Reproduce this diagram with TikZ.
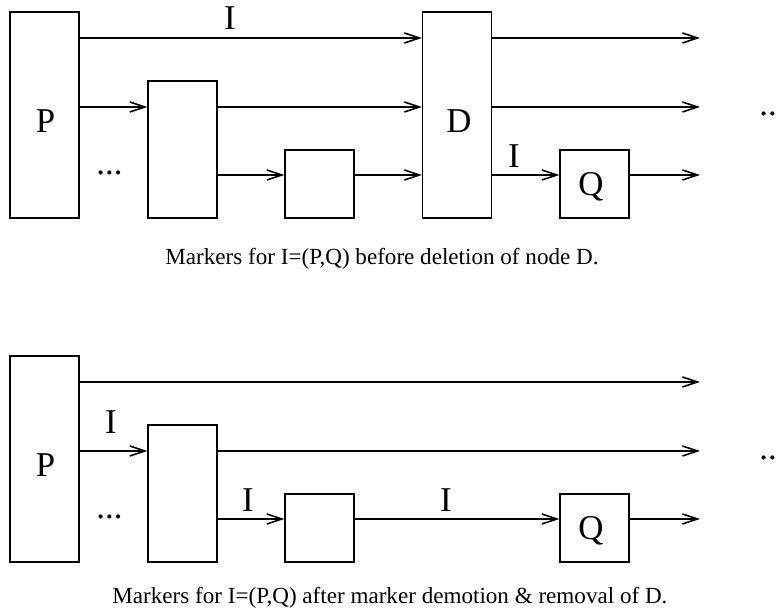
\documentclass[tikz,border=0pt]{standalone}
\usepackage{fontspec}
\setmainfont{Liberation Serif}
\usepackage{tikz}
\usetikzlibrary{positioning}
\usetikzlibrary{arrows.meta}

\tikzset{
  box/.style={draw, line width=0.65pt, inner sep=0pt, minimum width=34.5pt},
  tall/.style={box, minimum height=103pt},
  mid/.style={box, minimum height=68.5pt},
  low/.style={box, minimum height=34pt},
  conn/.style={line width=0.65pt, -{Straight Barb[length=7.5pt, width=5pt, line width=0.8pt]}},
  lbl/.style={inner sep=0pt, anchor=base, font=\fontsize{17.4}{20}\selectfont},
  capt/.style={inner sep=0pt, anchor=base west, font=\fontsize{11.55}{13}\selectfont}
}

\begin{document}
\begin{tikzpicture}[x=0.5pt, y=-0.5pt]
\useasboundingbox (0,0) rectangle (778,613);

% TOP %
%%%%%%%%%%%%  Before deletion of D %%%%%%%%%%%%%
\begin{scope}
{
% boxes
\node[tall] (P1) at (44.5,115) {};
\node[mid] (M1) at (182.5,149.5) {};
\node[low] (S1) at (319.5,184) {};
\node[tall] (D) at (457,115) {};
\node[low] (Q1) at (594.5,184) {};

% row ends
\coordinate (e1) at (700,38);
\coordinate (e2) at (700,107);
\coordinate (e3) at (700,175);

% arrows
\draw[conn] (P1.east |- e1) -- (D.west |- e1);
\draw[conn] (P1.east |- e2) -- (M1.west |- e2);
\draw[conn] (M1.east |- e2) -- (D.west |- e2);
\draw[conn] (M1.east |- e3) -- (S1.west |- e3);
\draw[conn] (S1.east |- e3) -- (D.west |- e3);
\draw[conn] (D.east |- e1) -- (e1);
\draw[conn] (D.east |- e2) -- (e2);
\draw[conn] (D.east |- e3) -- (Q1.west |- e3);
\draw[conn] (Q1.east |- e3) -- (e3);

% labellings
\node[lbl] (tP) at (45.5,133) {P};
\node[lbl] (tD) at (459,133) {D};
\node[lbl] (tQ) at (591,196) {Q};
\node[lbl] (tI1) at (230,30) {I};
\node[lbl] (tI2) at (514,168) {I};
\node[lbl, anchor=base west] (tdl) at (96,175) {...};
\node[lbl, anchor=base west] (tdr) at (759,115.5) {...};

\node[capt] (tcap) at (165,265)
{Markers for I=(P,Q) before deletion of node D.};
}
\end{scope}

% BOTTOM %
%%%%%%%%%%%%  After demotion and removal of D %%%%%%%%%%%%%
\begin{scope}
{
% boxes
\node[tall] (P2) at (44.5,459) {};
\node[mid] (M2) at (182.5,493.5) {};
\node[low] (S2) at (319.5,528) {};
\node[low] (Q2) at (594.5,528) {};

% row ends
\coordinate (f1) at (700,382);
\coordinate (f2) at (700,451);
\coordinate (f3) at (700,519);

% arrows
\draw[conn] (P2.east |- f1) -- (f1);
\draw[conn] (P2.east |- f2) -- (M2.west |- f2);
\draw[conn] (M2.east |- f2) -- (f2);
\draw[conn] (M2.east |- f3) -- (S2.west |- f3);
\draw[conn] (S2.east |- f3) -- (Q2.west |- f3);
\draw[conn] (Q2.east |- f3) -- (f3);

% labellings
\node[lbl] (bP) at (45.5,477) {P};
\node[lbl] (bQ) at (591,540) {Q};
\node[lbl] (bI1) at (111,434) {I};
\node[lbl] (bI2) at (248,512) {I};
\node[lbl] (bI3) at (446,512) {I};
\node[lbl, anchor=base west] (bdl) at (96,519) {...};
\node[lbl, anchor=base west] (bdr) at (759,459.5) {...};

\node[capt] (bcap) at (112,604)
{Markers for I=(P,Q) after marker demotion \& removal of D.};
}
\end{scope}

\end{tikzpicture}
\end{document}
